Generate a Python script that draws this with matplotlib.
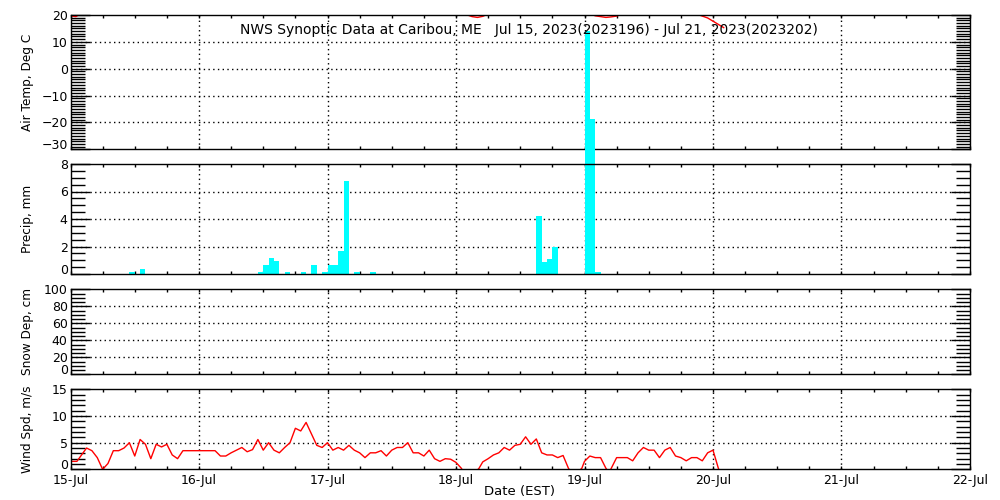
import matplotlib
matplotlib.use("Agg")
import matplotlib.pyplot as plt
from matplotlib.ticker import MultipleLocator

# hours since 15-Jul 00:00 EST
day_labels = ["15-Jul", "16-Jul", "17-Jul", "18-Jul", "19-Jul", "20-Jul", "21-Jul", "22-Jul"]

temp_hours = [0, 1, 2, 6, 12, 18, 24, 30, 36, 42, 48, 54, 60, 66, 72, 73, 74, 75, 76, 77, 78,
              84, 90, 96, 97, 98, 99, 100, 101, 102, 103, 108, 112, 116, 117, 118, 119, 120, 121, 122]
temp_vals = [19.7, 19.4, 20.6, 23.5, 27, 25, 22, 24, 28, 26, 23, 25, 28, 25, 22, 20.8, 20.1, 19.4, 19.1, 19.5, 20.4,
             27, 28, 22, 20.5, 19.7, 19.4, 19.1, 19.3, 19.6, 20.4, 26, 27, 21.0, 20.3, 19.6, 18.9, 17.7, 16.5, 15.3]

precip_hours = [11, 13, 35, 36, 37, 38, 40, 43, 45, 47, 48, 49, 50, 51, 53, 56, 87, 88, 89, 90, 96, 97, 98]
precip_vals = [0.15, 0.4, 0.15, 0.65, 1.15, 0.95, 0.15, 0.15, 0.65, 0.15, 0.65, 0.65, 1.65, 6.8, 0.15, 0.15,
               4.25, 0.9, 1.1, 1.95, 17.7, 11.3, 0.15]

wind_hours = [0, 1.2, 3, 4, 5, 6, 7, 8, 9, 10, 11, 12, 13, 14, 15, 16, 17, 18, 19, 20, 21, 27, 28, 29, 30,
              32, 33, 34, 35, 36, 37, 38, 39, 40, 41, 42, 43, 44, 46, 47, 48, 49, 50, 51, 52, 53, 54, 55,
              56, 57, 58, 59, 60, 61, 62, 63, 64, 65, 66, 67, 68, 69, 70, 71, 72, 73, 74, 75, 76.3, 77,
              78, 79, 80, 81, 82, 83, 84, 85, 86, 87, 88, 89, 90, 91, 92, 93, 94, 95.5, 96, 97, 98, 99,
              100, 100.6, 101, 102, 104, 105, 106, 107, 108, 109, 110, 111, 112, 113, 114, 115, 116, 117,
              118, 119, 120, 121, 122]
wind_vals = [1.5, 1.5, 4.0, 3.5, 2.2, 0.0, 1.1, 3.5, 3.5, 4.0, 5.0, 2.5, 5.6, 4.7, 2.0, 4.7, 4.2, 4.7, 2.7, 2.0,
             3.5, 3.5, 2.5, 2.5, 3.1, 4.1, 3.3, 3.7, 5.6, 3.6, 5.0, 3.6, 3.1, 4.1, 5.0, 7.7, 7.2, 8.8, 4.5,
             4.1, 5.0, 3.6, 4.1, 3.6, 4.5, 3.6, 3.1, 2.2, 3.1, 3.1, 3.5, 2.5, 3.6, 4.1, 4.1, 5.0, 3.1, 3.1,
             2.5, 3.6, 2.0, 1.5, 2.0, 1.9, 1.3, 0.2, -1.5, -1.2, 0.2, 1.4, 2.0, 2.7, 3.1, 4.1, 3.6, 4.5,
             4.7, 6.1, 4.7, 5.7, 3.1, 2.7, 2.7, 2.2, 2.6, 0.2, -1.2, 0.2, 1.5, 2.5, 2.2, 2.2, 0.2, -0.6,
             0.2, 2.2, 2.2, 1.6, 3.1, 4.1, 3.6, 3.6, 2.2, 3.6, 4.1, 2.5, 2.2, 1.6, 2.2, 2.2, 1.6, 3.1,
             3.6, 0.2, -2.0]

title = "NWS Synoptic Data at Caribou, ME   Jul 15, 2023(2023196) - Jul 21, 2023(2023202)"


def style(ax, ylim, major, minor, grid_y):
    ax.set_xlim(0, 168)
    ax.set_yticks(list(range(ylim[0], ylim[1] + 1, major)))
    ax.set_ylim(*ylim)
    ax.xaxis.set_major_locator(MultipleLocator(24))
    ax.xaxis.set_minor_locator(MultipleLocator(6))
    ax.yaxis.set_minor_locator(MultipleLocator(minor))
    ax.tick_params(axis="y", which="major", direction="in", length=13.5, width=1,
                   left=True, right=True, labelsize=9, pad=2)
    ax.tick_params(axis="y", which="minor", direction="in", length=10, width=1, left=True, right=True)
    ax.tick_params(axis="x", which="both", direction="in", length=2.5, width=1,
                   top=True, bottom=True, labelbottom=False, labelsize=9, pad=3)
    # lowest y label sits on the axis line rather than centred on it
    ax.yaxis.get_major_ticks()[0].label1.set_verticalalignment("baseline")
    for sp in ax.spines.values():
        sp.set_linewidth(1)
    ax.patch.set_visible(False)
    # dotted grid at the inner day lines and inner major y ticks
    for d in range(24, 168, 24):
        ax.axvline(d, color="black", lw=1, dashes=(1, 2.4), zorder=0.5)
    for g in grid_y:
        ax.axhline(g, color="black", lw=1, dashes=(1, 2.4), zorder=0.5)


fig = plt.figure(figsize=(10, 5), dpi=100)
ax1 = fig.add_axes([0.0705, 0.7014, 0.8995, 0.2686])
ax2 = fig.add_axes([0.0705, 0.452, 0.8995, 0.22])
ax3 = fig.add_axes([0.0705, 0.2513, 0.8995, 0.17])
ax4 = fig.add_axes([0.0705, 0.0613, 0.8995, 0.16])
ax1.set_zorder(1)
ax2.set_zorder(2)

style(ax1, (-30, 20), 10, 1, [10, 0, -10, -20])
style(ax2, (0, 8), 2, 0.5, [2, 4, 6])
style(ax3, (0, 100), 20, 5, [20, 40, 60, 80])
style(ax4, (0, 15), 5, 1, [5, 10])

ax1.plot(temp_hours, temp_vals, color="red", lw=1, zorder=2)

bars = ax2.bar(precip_hours, precip_vals, width=1, align="edge", color="#00FFFF", zorder=2)
for b in bars:
    b.set_clip_on(False)

ax4.plot(wind_hours, wind_vals, color="red", lw=1, zorder=2)
ax4.set_xticks(range(0, 169, 24))
ax4.set_xticklabels(day_labels)
ax4.tick_params(axis="x", labelbottom=True)

ylab_x = 0.028
fig.text(ylab_x, 0.8357, "Air Temp, Deg C", rotation=90, ha="center", va="center", fontsize=8.7)
fig.text(ylab_x, 0.562, "Precip, mm", rotation=90, ha="center", va="center", fontsize=8.7)
fig.text(ylab_x, 0.3363, "Snow Dep, cm", rotation=90, ha="center", va="center", fontsize=8.7)
fig.text(ylab_x, 0.1413, "Wind Spd, m/s", rotation=90, ha="center", va="center", fontsize=8.7)
fig.text(0.529, 0.94, title, ha="center", va="center", fontsize=10)
fig.text(0.519, 0.016, "Date (EST)", ha="center", va="center", fontsize=9.5)

fig.savefig("out.png", dpi=100, facecolor="white")
